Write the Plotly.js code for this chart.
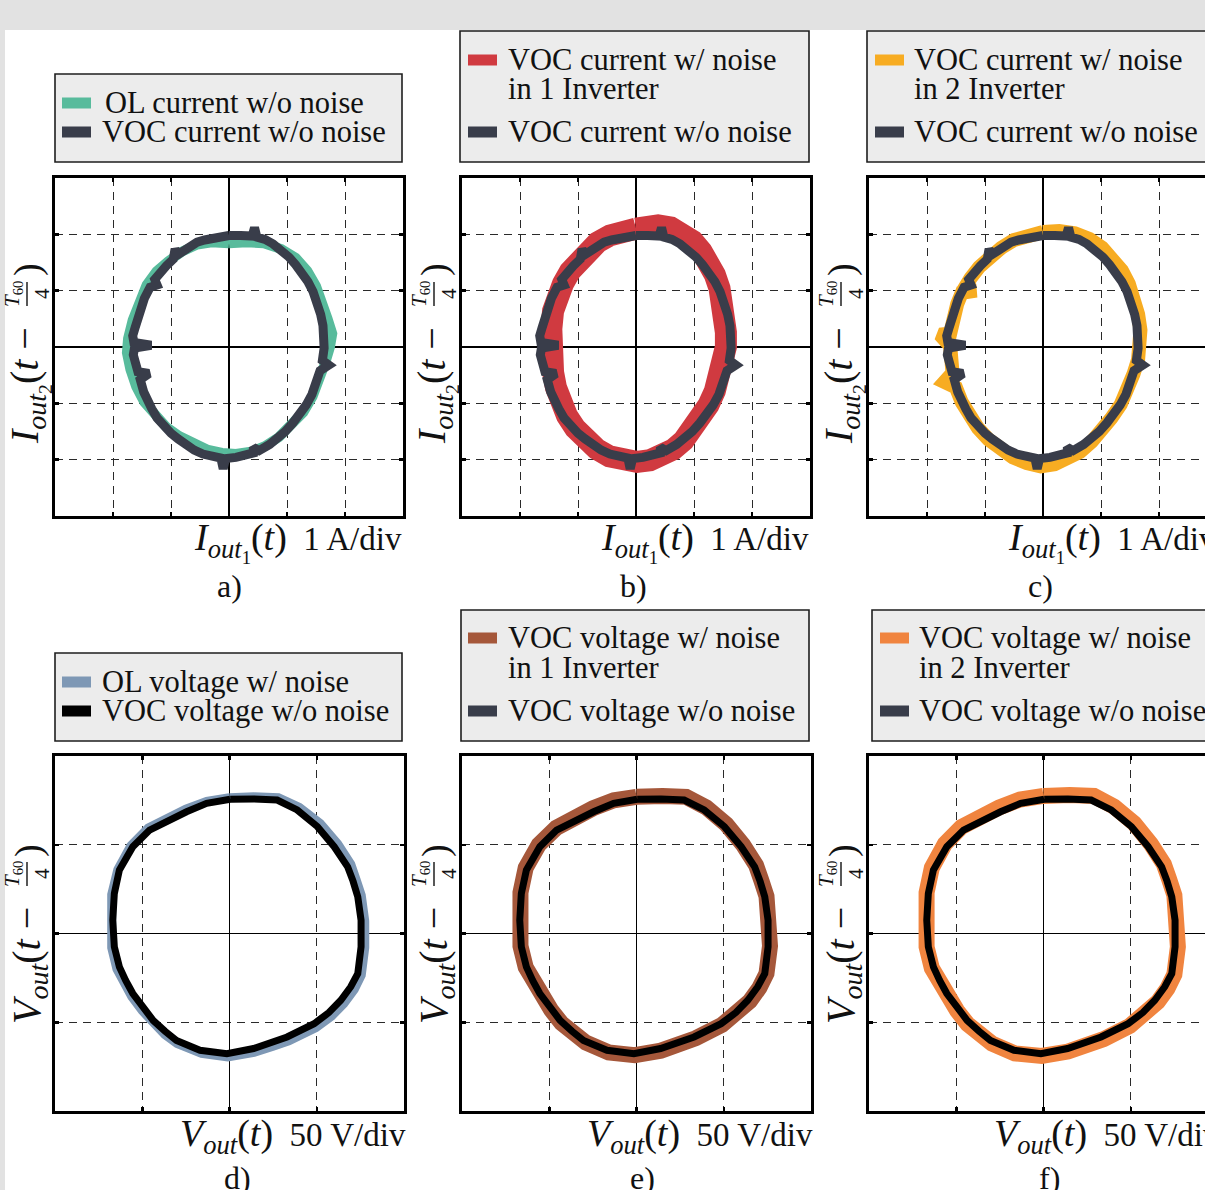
<!DOCTYPE html>
<html>
<head>
<meta charset="utf-8">
<script src="https://cdn.plot.ly/plotly-3.0.1.min.js"></script>
<style>
html,body{margin:0;padding:0;background:#e2e2e2;}
#chart{width:1205px;height:1190px;}
</style>
</head>
<body>
<div id="chart"></div>
<script>
// ---------- DATA ----------
// Currents in A (1 A/div)
const vocCurX = [0.00,-0.15,-0.30,-0.42,-0.55,-0.66,-0.78,-0.88,-0.93,-0.96,-1.08,-1.18,-1.28,-1.24,-1.36,-1.46,-1.52,-1.58,-1.62,-1.66,-1.64,-1.34,-1.63,-1.65,-1.60,-1.57,-1.38,-1.53,-1.47,-1.41,-1.33,-1.24,-1.13,-1.00,-0.88,-0.74,-0.60,-0.45,-0.30,-0.14,-0.10,-0.06,0.12,0.28,0.42,0.42,0.52,0.70,0.84,0.97,1.10,1.22,1.33,1.43,1.51,1.57,1.72,1.61,1.64,1.64,1.62,1.58,1.52,1.45,1.36,1.26,1.15,1.03,0.90,0.76,0.62,0.48,0.44,0.40,0.20,0.00];
const vocCurY = [1.98,1.96,1.95,1.90,1.86,1.80,1.72,1.64,1.74,1.56,1.44,1.34,1.20,1.10,1.06,0.86,0.70,0.52,0.34,0.20,0.08,0.03,-0.02,-0.14,-0.30,-0.44,-0.47,-0.58,-0.80,-0.95,-1.10,-1.26,-1.40,-1.53,-1.63,-1.74,-1.83,-1.90,-1.95,-1.97,-2.16,-1.98,-1.96,-1.92,-1.88,-1.78,-1.84,-1.73,-1.62,-1.50,-1.35,-1.20,-1.03,-0.84,-0.64,-0.42,-0.32,-0.24,-0.02,0.18,0.38,0.58,0.78,0.98,1.16,1.32,1.46,1.60,1.72,1.83,1.91,1.95,2.12,1.97,1.98,1.98];

const olCurX = [0.00,-0.30,-0.55,-0.80,-1.05,-1.25,-1.42,-1.55,-1.66,-1.74,-1.76,-1.70,-1.60,-1.46,-1.28,-1.08,-0.86,-0.62,-0.38,-0.12,0.12,0.38,0.62,0.86,1.08,1.28,1.44,1.56,1.66,1.74,1.78,1.70,1.62,1.50,1.35,1.15,0.90,0.60,0.30,0.00];
const olCurY = [1.84,1.86,1.82,1.70,1.52,1.34,1.10,0.80,0.48,0.15,-0.10,-0.40,-0.70,-0.98,-1.22,-1.42,-1.58,-1.72,-1.82,-1.88,-1.90,-1.86,-1.76,-1.60,-1.40,-1.16,-0.88,-0.58,-0.28,0.00,0.24,0.50,0.78,1.08,1.35,1.58,1.74,1.84,1.86,1.84];

const noise1CurX = [0.00,-0.22,-0.45,-0.66,-0.84,-1.00,-1.14,-1.26,-1.36,-1.43,-1.46,-1.47,-1.46,-1.43,-1.38,-1.30,-1.19,-1.05,-0.88,-0.68,-0.46,-0.22,0.02,0.24,0.44,0.64,0.82,0.98,1.12,1.25,1.36,1.45,1.51,1.55,1.55,1.53,1.50,1.44,1.36,1.26,1.13,0.98,0.80,0.60,0.38,0.18,0.00];
const noise1CurY = [2.10,2.07,1.98,1.86,1.71,1.54,1.34,1.12,0.88,0.64,0.32,0.08,-0.18,-0.45,-0.72,-0.98,-1.22,-1.44,-1.64,-1.81,-1.94,-2.02,-2.04,-2.01,-1.94,-1.82,-1.66,-1.47,-1.26,-1.03,-0.78,-0.52,-0.26,0.00,0.26,0.52,0.78,1.04,1.28,1.50,1.70,1.88,2.02,2.12,2.16,2.14,2.10];

const noise2CurX = [0.00,-0.25,-0.50,-0.72,-0.92,-1.10,-1.25,-1.38,-1.15,-1.40,-1.48,-1.55,-1.60,-1.78,-1.60,-1.58,-1.56,-1.70,-1.50,-1.40,-1.28,-1.12,-0.94,-0.74,-0.52,-0.28,-0.04,0.20,0.42,0.64,0.84,1.02,1.18,1.34,1.46,1.56,1.64,1.68,1.68,1.64,1.58,1.48,1.36,1.20,1.02,0.80,0.55,0.28,0.00];
const noise2CurY = [2.04,2.00,1.90,1.76,1.60,1.42,1.22,1.00,1.00,0.96,0.76,0.50,0.24,0.22,0.02,-0.22,-0.46,-0.62,-0.72,-0.98,-1.22,-1.44,-1.64,-1.82,-1.96,-2.06,-2.12,-2.08,-2.00,-1.86,-1.68,-1.48,-1.26,-1.02,-0.76,-0.48,-0.22,0.04,0.30,0.58,0.86,1.12,1.36,1.58,1.76,1.92,2.02,2.06,2.04];

// Voltages in V (50 V/div)
const vocVoltX = [0.4,-13.1,-24.6,-35,-45.8,-55.4,-63.1,-66,-66.9,-66,-63.1,-59.5,-55.4,-49.5,-43.8,-37,-30.4,-16.9,-1.5,13.8,24,33,48.5,57,63.8,69.5,73.5,75.4,75.4,73.5,70.8,67.7,60,50.4,38.8,27.3,14,0.4];
const vocVoltY = [75.6,73.3,68.6,64,58.3,48.9,35.7,22.6,7.5,-7.5,-18.8,-26.5,-33.8,-41.5,-48.9,-55,-60.2,-65.8,-67.7,-64.8,-61.5,-58.3,-50.8,-44.5,-37.6,-30,-22.6,-7.5,7.5,20.7,29.5,37.6,48.9,60.2,69.6,75.2,75.8,75.6];

const olVoltX = [0,-13,-25,-36,-46.5,-56.5,-64,-67.5,-68,-67.5,-64.5,-60.5,-56,-50,-44,-37,-30,-16,-1,14,25,34,49.5,58.5,65.5,71.5,75.5,77.5,77.5,75.5,72.5,69.5,62,52,40,28,14,0];
const olVoltY = [76.5,74.5,70,65,59.5,49.5,36,22,7,-8,-20,-28,-35.5,-43.5,-50.5,-57,-62,-67.5,-69.5,-67,-63.5,-60.5,-53,-46.5,-39.5,-31.5,-23.5,-8,7,21.5,30.5,39,50.5,62,71,76.5,77,76.5];

const noise1VoltX = [0,-13,-25,-36,-46,-56,-63.5,-66.5,-67.5,-66.5,-63.5,-59.5,-55,-49,-43,-36,-29,-16,-1,14,25,34,49,58,65,70.5,74.5,76.5,76.5,74.5,71.5,68.5,61,51.5,40,28.5,15,0];
const noise1VoltY = [77,75,70.5,65.5,59.5,50,37,23,8,-7,-19,-27,-35,-43,-50.5,-56.5,-61.5,-67,-68.5,-66,-62.5,-59,-51.5,-45,-38,-30.5,-22.5,-7,8,21,30,38.5,50,61.5,71,77,77.5,77];

const noise2VoltX = [0,-13.5,-25.5,-36.5,-47,-56.5,-64,-67,-68,-67,-64,-60,-55.5,-49.5,-43.5,-36.5,-29.5,-16.5,-1,14,25,34.5,49.5,58.5,65.5,71,75,77,77,75,72,69,61.5,52,40.5,29,15,0];
const noise2VoltY = [77.5,75.5,71,66,60,50.5,37,23,7.5,-7.5,-19.5,-27.5,-35.5,-43.5,-51,-57,-62,-67.5,-69,-66.5,-63,-59.5,-52,-45.5,-38.5,-31,-23,-7.5,8,21.5,30.5,39,50.5,62,71.5,77.5,78,77.5];

const legendTexts = {
  a: ["OL current w/o noise", "VOC current w/o noise"],
  b: ["VOC current w/ noise", "in 1 Inverter", "VOC current w/o noise"],
  c: ["VOC current w/ noise", "in 2 Inverter", "VOC current w/o noise"],
  d: ["OL voltage w/ noise", "VOC voltage w/o noise"],
  e: ["VOC voltage w/ noise", "in 1 Inverter", "VOC voltage w/o noise"],
  f: ["VOC voltage w/ noise", "in 2 Inverter", "VOC voltage w/o noise"]
};
const panelLetters = ["a)", "b)", "c)", "d)", "e)", "f)"];
const curUnit = "1 A/div";
const voltUnit = "50 V/div";

// ---------- STYLE ----------
const C = {
  dark: '#393d4a', teal: '#58bb9c', red: '#d03a40', yellow: '#f7ac22',
  blue: '#7e98b5', brown: '#a5573a', orange: '#f0843f', black: '#000000'
};
const W = 1205, H = 1190;
const px = x => x / W;
const py = y => 1 - y / H;
const FONT = 'Liberation Serif, Times New Roman, serif';

function axisBase(extra) {
  return Object.assign({
    showgrid: true, gridcolor: '#2a2a2a', gridwidth: 1, griddash: '8px,6px',
    zeroline: true, zerolinecolor: '#000', zerolinewidth: 1.6,
    showline: true, linecolor: '#000', linewidth: 3, mirror: 'ticks',
    ticks: 'inside', ticklen: 4, tickwidth: 2.5, tickcolor: '#000',
    showticklabels: false, fixedrange: true
  }, extra);
}

const topY = [py(516), py(178)];
const botY = [py(1111), py(756)];
const layout = {
  width: W, height: H,
  margin: {l: 0, r: 0, t: 0, b: 0},
  paper_bgcolor: '#e2e2e2', plot_bgcolor: '#ffffff',
  showlegend: false,
  font: {family: FONT, color: '#111'},
  xaxis:  axisBase({domain: [px(55), px(403)], range: [-3, 3], dtick: 1, tick0: 0, anchor: 'y'}),
  yaxis:  axisBase({domain: topY, range: [-3, 3], dtick: 1, tick0: 0, anchor: 'x'}),
  xaxis2: axisBase({domain: [px(462), px(810)], range: [-3, 3], dtick: 1, tick0: 0, anchor: 'y2'}),
  yaxis2: axisBase({domain: topY, range: [-3, 3], dtick: 1, tick0: 0, anchor: 'x2'}),
  xaxis3: axisBase({domain: [px(869), 1], range: [-3, -3 + (1205 - 869) / 58], dtick: 1, tick0: 0, anchor: 'y3'}),
  yaxis3: axisBase({domain: topY, range: [-3, 3], dtick: 1, tick0: 0, anchor: 'x3', mirror: false}),
  xaxis4: axisBase({domain: [px(55), px(404)], range: [-100, 100], dtick: 50, tick0: 0, anchor: 'y4'}),
  yaxis4: axisBase({domain: botY, range: [-100, 100], dtick: 50, tick0: 0, anchor: 'x4'}),
  xaxis5: axisBase({domain: [px(462), px(811)], range: [-100, 100], dtick: 50, tick0: 0, anchor: 'y5'}),
  yaxis5: axisBase({domain: botY, range: [-100, 100], dtick: 50, tick0: 0, anchor: 'x5'}),
  xaxis6: axisBase({domain: [px(869), 1], range: [-100, -100 + (1205 - 869) / 87.25 * 50], dtick: 50, tick0: 0, anchor: 'y6'}),
  yaxis6: axisBase({domain: botY, range: [-100, 100], dtick: 50, tick0: 0, anchor: 'x6', mirror: false}),
  shapes: [], annotations: []
};

// white page area
layout.shapes.push({type: 'rect', xref: 'paper', yref: 'paper', x0: px(5), x1: 1, y0: 0, y1: py(30),
  fillcolor: '#ffffff', line: {width: 0}, layer: 'below'});

function legendBox(x0, x1, y0, y1, entries) {
  layout.shapes.push({type: 'rect', xref: 'paper', yref: 'paper', x0: px(x0), x1: px(x1), y0: py(y1), y1: py(y0),
    fillcolor: '#ececec', line: {color: '#1e1e1e', width: 1.6}});
  entries.forEach(e => {
    if (e.color) {
      layout.shapes.push({type: 'rect', xref: 'paper', yref: 'paper', x0: px(e.sx), x1: px(e.sx + 29),
        y0: py(e.y + 5.5), y1: py(e.y - 5.5), fillcolor: e.color, line: {width: 0}});
    }
    layout.annotations.push({xref: 'paper', yref: 'paper', x: px(e.tx), y: py(e.y), xanchor: 'left', yanchor: 'middle',
      text: e.text, showarrow: false, font: {size: 30.5, family: FONT, color: '#111'}});
  });
}

legendBox(55, 402, 74, 162, [
  {sx: 62, tx: 103, y: 103, color: C.teal, text: legendTexts.a[0]},
  {sx: 62, tx: 100, y: 132, color: C.dark, text: legendTexts.a[1]}]);
legendBox(460, 809, 31, 162, [
  {sx: 468, tx: 506, y: 60, color: C.red, text: legendTexts.b[0]},
  {sx: 468, tx: 506, y: 89, color: null, text: legendTexts.b[1]},
  {sx: 468, tx: 506, y: 132, color: C.dark, text: legendTexts.b[2]}]);
legendBox(867, 1216, 31, 162, [
  {sx: 875, tx: 912, y: 60, color: C.yellow, text: legendTexts.c[0]},
  {sx: 875, tx: 912, y: 89, color: null, text: legendTexts.c[1]},
  {sx: 875, tx: 912, y: 132, color: C.dark, text: legendTexts.c[2]}]);
legendBox(55, 402, 653, 741, [
  {sx: 62, tx: 100, y: 682, color: C.blue, text: legendTexts.d[0]},
  {sx: 62, tx: 100, y: 711, color: C.black, text: legendTexts.d[1]}]);
legendBox(461, 809, 610, 741, [
  {sx: 468, tx: 506, y: 638, color: C.brown, text: legendTexts.e[0]},
  {sx: 468, tx: 506, y: 668, color: null, text: legendTexts.e[1]},
  {sx: 468, tx: 506, y: 711, color: C.dark, text: legendTexts.e[2]}]);
legendBox(872, 1216, 610, 741, [
  {sx: 880, tx: 917, y: 638, color: C.orange, text: legendTexts.f[0]},
  {sx: 880, tx: 917, y: 668, color: null, text: legendTexts.f[1]},
  {sx: 880, tx: 917, y: 711, color: C.dark, text: legendTexts.f[2]}]);

function ann(x, y, text, size, opts) {
  layout.annotations.push(Object.assign({xref: 'paper', yref: 'paper', x: px(x), y: py(y), text: text,
    showarrow: false, font: {size: size, family: FONT, color: '#111'}, xanchor: 'center', yanchor: 'middle'}, opts || {}));
}

const NB = '\u00A0';
const big = s => '<span style="font-size:38px">' + s + '</span>';
const curXLabel = big('<i>I</i><sub><i>out</i><sub>1</sub></sub>(<i>t</i>)') + NB + NB + curUnit;
const voltXLabel = big('<i>V</i><sub><i>out</i></sub>(<i>t</i>)') + NB + NB + voltUnit;
const curYMain = '<i>I</i><sub><i>out</i><sub>2</sub></sub>(<i>t</i>' + NB + '−' + NB;
const voltYMain = '<i>V</i><sub><i>out</i></sub>(<i>t</i>' + NB + '−' + NB;

// per-panel labels
const leftEdges = [55, 462, 869];
[0, 1, 2].forEach(i => {
  const L = leftEdges[i];
  // top row (current)
  ann(L + 349, 542, curXLabel, 33, {xanchor: 'right'});
  ann(L + 174 + (i === 0 ? 0 : -3), 586, panelLetters[i], 32);
  ann(L - 26, 381, curYMain, 40, {textangle: -90});
  ann(L - 42, 294, '<i>T</i><sub>60</sub>', 21, {textangle: -90});
  ann(L - 13, 294, '4', 21, {textangle: -90});
  ann(L - 27, 270, ')', 38, {textangle: -90});
  layout.shapes.push({type: 'line', xref: 'paper', yref: 'paper', x0: px(L - 28), x1: px(L - 28),
    y0: py(282), y1: py(306), line: {color: '#111', width: 1.4}});
  // bottom row (voltage)
  ann(L + 353, 1136, voltXLabel, 33, {xanchor: 'right'});
  ann(L + 180 + (i === 0 ? 2 : 0), 1178, panelLetters[i + 3], 32);
  ann(L - 26, 961, voltYMain, 40, {textangle: -90});
  ann(L - 42, 874, '<i>T</i><sub>60</sub>', 21, {textangle: -90});
  ann(L - 13, 874, '4', 21, {textangle: -90});
  ann(L - 27, 851, ')', 38, {textangle: -90});
  layout.shapes.push({type: 'line', xref: 'paper', yref: 'paper', x0: px(L - 28), x1: px(L - 28),
    y0: py(862), y1: py(886), line: {color: '#111', width: 1.4}});
});

function loop(x, y, color, width, xa, ya) {
  return {type: 'scatter', mode: 'lines', x: x, y: y, xaxis: xa, yaxis: ya,
    line: {color: color, width: width, shape: 'linear'}, hoverinfo: 'skip'};
}

const data = [
  loop(olCurX, olCurY, C.teal, 10, 'x', 'y'),
  loop(vocCurX, vocCurY, C.dark, 9, 'x', 'y'),
  loop(noise1CurX, noise1CurY, C.red, 22, 'x2', 'y2'),
  loop(vocCurX, vocCurY, C.dark, 9, 'x2', 'y2'),
  loop(noise2CurX, noise2CurY, C.yellow, 14, 'x3', 'y3'),
  loop(vocCurX, vocCurY, C.dark, 9, 'x3', 'y3'),
  loop(olVoltX, olVoltY, C.blue, 9, 'x4', 'y4'),
  loop(vocVoltX, vocVoltY, C.black, 7, 'x4', 'y4'),
  loop(noise1VoltX, noise1VoltY, C.brown, 16, 'x5', 'y5'),
  loop(vocVoltX, vocVoltY, C.black, 7, 'x5', 'y5'),
  loop(noise2VoltX, noise2VoltY, C.orange, 16, 'x6', 'y6'),
  loop(vocVoltX, vocVoltY, C.black, 7, 'x6', 'y6')
];

Plotly.newPlot('chart', data, layout, {staticPlot: true, displayModeBar: false});
</script>
</body>
</html>
